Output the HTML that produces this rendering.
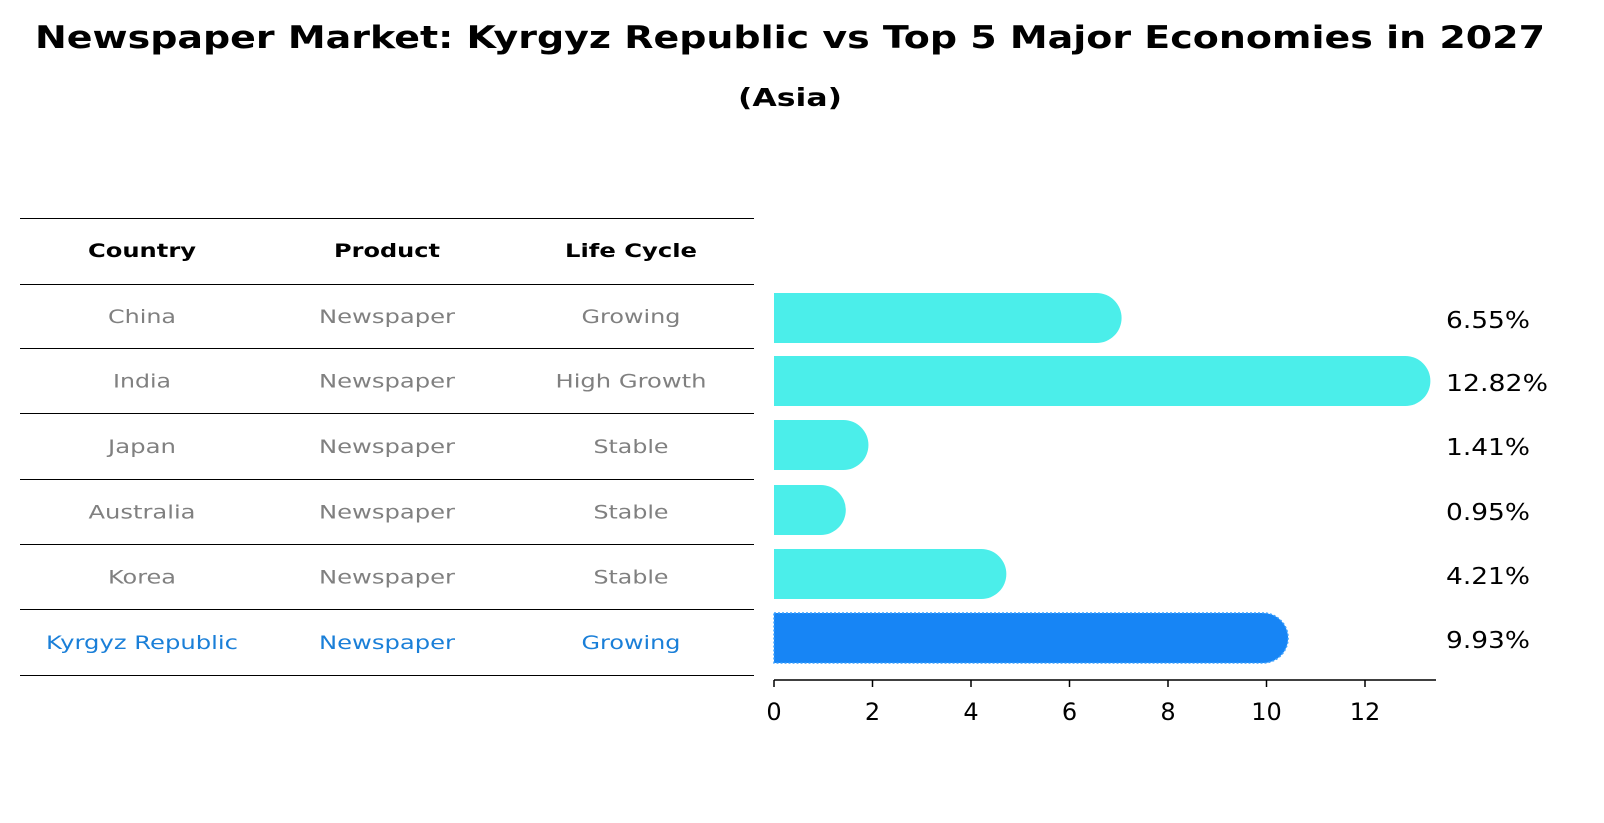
<!DOCTYPE html>
<html><head><meta charset="utf-8"><style>
html,body{margin:0;padding:0;background:#fff;overflow:hidden;width:1604px;height:823px;}
svg{display:block;}
</style></head><body>
<svg width="1604" height="823" xmlns="http://www.w3.org/2000/svg" font-family="DejaVu Sans, Liberation Sans, sans-serif">
<text x="790" y="48" text-anchor="middle" font-size="31" font-weight="bold" textLength="1510" lengthAdjust="spacingAndGlyphs">Newspaper Market: Kyrgyz Republic vs Top 5 Major Economies in 2027</text>
<text x="790" y="106" text-anchor="middle" font-size="25" font-weight="bold" textLength="104" lengthAdjust="spacingAndGlyphs">(Asia)</text>
<g id="table"></g>
<g id="bars"></g>
</svg>
<script>
const countries=["China","India","Japan","Australia","Korea","Kyrgyz Republic"];
const products=["Newspaper","Newspaper","Newspaper","Newspaper","Newspaper","Newspaper"];
const lifecycles=["Growing","High Growth","Stable","Stable","Stable","Growing"];
const values=[6.55,12.82,1.41,0.95,4.21,9.93];
const ticks=[0,2,4,6,8,10,12];
const NS="http://www.w3.org/2000/svg";
const widths={"Country":108,"Product":106,"Life Cycle":132,"China":68,"India":58,"Japan":68,"Australia":107,"Korea":68,"Kyrgyz Republic":192,"Newspaper":136,"Growing":99,"High Growth":151,"Stable":75};
function mk(t,a,p){const e=document.createElementNS(NS,t);for(const k in a)e.setAttribute(k,a[k]);p.appendChild(e);return e;}
const tb=document.getElementById('table');
const lines=[218,284,348,413,479,544,609,675];
lines.forEach((y,i)=>{const l=mk('line',{x1:20,x2:754,y1:y+0.5,y2:y+0.5,stroke:'#000','stroke-width':1},tb);

});
const colX=[142,387,631];
["Country","Product","Life Cycle"].forEach((h,i)=>{const t=mk('text',{x:colX[i],y:257,'text-anchor':'middle','font-size':19,'font-weight':'bold',textLength:widths[h],lengthAdjust:'spacingAndGlyphs'},tb);t.textContent=h;

});
countries.forEach((c,r)=>{const y=(lines[r+1]+lines[r+2])/2+7;const last=r===countries.length-1;
[c,products[r],lifecycles[r]].forEach((v,i)=>{const t=mk('text',{x:colX[i],y:y,'text-anchor':'middle','font-size':19,fill:last?'#1a7fd8':'#808080',textLength:widths[v]||100,lengthAdjust:'spacingAndGlyphs'},tb);t.textContent=v;

});});
const bg=document.getElementById('bars');
const x0=774,k=49.25,rowY=[318,381,445,510,574,638],h=50,rad=25;
const X=v=>x0+v*k;
values.forEach((v,i)=>{const last=i===values.length-1;const cy=rowY[i];const xe=X(v);
const d=`M${x0},${cy-h/2} H${xe} A${rad},${rad} 0 0 1 ${xe},${cy+h/2} H${x0} Z`;
const p=mk('path',{d:d,fill:last?'#1785f5':'#4beeea'},bg);
if(last){p.setAttribute('stroke','#3aa0ff');p.setAttribute('stroke-width','1.5');p.setAttribute('stroke-dasharray','2,2');}


const s=v.toFixed(2)+'%';
const t=mk('text',{x:1446,y:cy+10,'font-size':23,textLength:s.length>5?102:84,lengthAdjust:'spacingAndGlyphs'},bg);t.textContent=s;

});
const ax=mk('line',{x1:x0,x2:1436,y1:680,y2:680,stroke:'#000','stroke-width':1.5},bg);


ticks.forEach(v=>{const tk=mk('line',{x1:X(v),x2:X(v),y1:680,y2:687,stroke:'#000','stroke-width':1.5},bg);


const t=mk('text',{x:X(v),y:720,'text-anchor':'middle','font-size':24},bg);t.textContent=v;

});
</script>
</body></html>
